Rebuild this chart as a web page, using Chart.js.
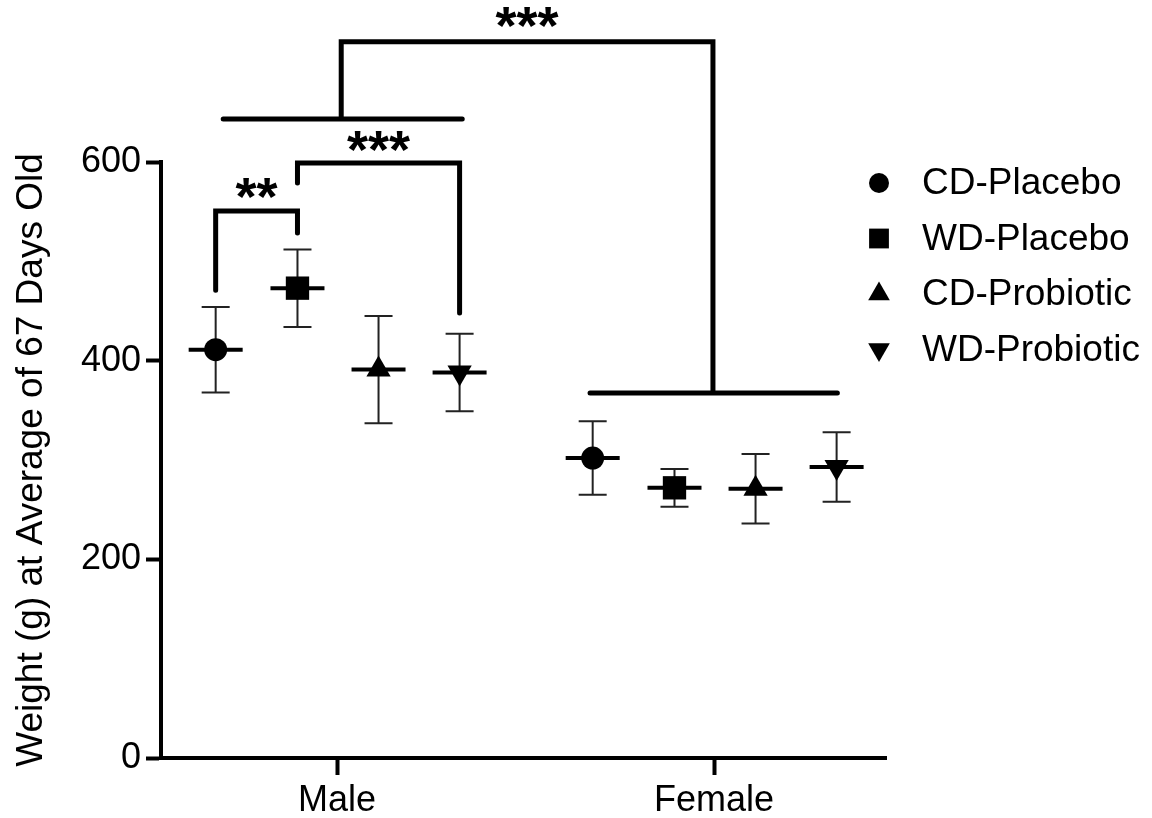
<!DOCTYPE html>
<html>
<head>
<meta charset="utf-8">
<script src="https://cdn.jsdelivr.net/npm/chart.js@4.4.1/dist/chart.umd.min.js"></script>
<style>
  html, body { margin: 0; padding: 0; background: #ffffff; }
  #wrap { width: 1152px; height: 818px; }
</style>
</head>
<body>
<div id="wrap"><canvas id="chart" width="1152" height="818"></canvas></div>
<script>
// ---- data ----
const groups = ['Male', 'Female'];
const seriesNames = ['CD-Placebo', 'WD-Placebo', 'CD-Probiotic', 'WD-Probiotic'];
const cdPlacebo = [411, 302];
const wdPlacebo = [473, 272];
const cdProbiotic = [391, 271];
const wdProbiotic = [388, 293];
const cdPlaceboErr = [43, 37];
const wdPlaceboErr = [39, 19];
const cdProbioticErr = [54, 35];
const wdProbioticErr = [39, 35];
const yTicks = [0, 200, 400, 600];
const yTitle = 'Weight (g) at Average of 67 Days Old';
const sigLabels = ['**', '***', '***'];

const seriesValues = [cdPlacebo, wdPlacebo, cdProbiotic, wdProbiotic];
const seriesErrors = [cdPlaceboErr, wdPlaceboErr, cdProbioticErr, wdProbioticErr];

// ---- layout / style ----
const FONT = "'Liberation Sans', Arial, Helvetica, sans-serif";
const slotOffset = [-0.322, -0.105, 0.110, 0.325];   // series position inside a group
const markerStyle = [
  { pointStyle: 'circle',   radius: 11.5, rotation: 0 },
  { pointStyle: 'rect',     radius: 16.5, rotation: 0 },
  { pointStyle: 'triangle', radius: 14,   rotation: 0 },
  { pointStyle: 'triangle', radius: 14,   rotation: 180 }
];
const legendRadius = [10, 14, 12.5, 12.5];

// significance brackets (x in axis units, y in grams)
const brackets = [
  // CD-Placebo vs WD-Placebo (male)
  { path: [[1 + slotOffset[0], 471], [1 + slotOffset[0], 550.7], [1 + slotOffset[1], 550.7], [1 + slotOffset[1], 528.5]],
    label: 0, lx: 1 + (slotOffset[0] + slotOffset[1]) / 2, ly: 573.8 },
  // WD-Placebo vs WD-Probiotic (male)
  { path: [[1 + slotOffset[1], 578.9], [1 + slotOffset[1], 599], [1 + slotOffset[3], 599], [1 + slotOffset[3], 448]],
    label: 1, lx: 1 + (slotOffset[1] + slotOffset[3]) / 2, ly: 621 },
];
const groupBracket = {
  maleLine: [0.698, 1.332, 643.3],
  femaleLine: [1.671, 2.327, 367.4],
  top: 721.1, maleX: 1.011, femaleX: 1.997,
  label: 2, ly: 745
};

const xs = (gi, si) => gi + 1 + slotOffset[si];

const datasets = seriesNames.map((name, si) => ({
  label: name,
  data: groups.map((g, gi) => ({ x: xs(gi, si), y: seriesValues[si][gi] })),
  backgroundColor: '#000',
  borderColor: '#000',
  borderWidth: 0,
  pointStyle: markerStyle[si].pointStyle,
  pointRadius: markerStyle[si].radius,
  pointRotation: markerStyle[si].rotation,
  showLine: false
}));

// error bars and mean lines, drawn under the markers
const errorBarPlugin = {
  id: 'errorBars',
  beforeDatasetsDraw(chart) {
    const { ctx, scales: { x, y } } = chart;
    ctx.save();
    seriesNames.forEach((name, si) => {
      groups.forEach((g, gi) => {
        const px = x.getPixelForValue(xs(gi, si));
        const m = seriesValues[si][gi];
        const e = seriesErrors[si][gi];
        const yTop = y.getPixelForValue(m + e);
        const yBot = y.getPixelForValue(m - e);
        const yMid = y.getPixelForValue(m);
        ctx.strokeStyle = '#222';
        ctx.lineWidth = 2;
        ctx.lineCap = 'butt';
        ctx.beginPath();
        ctx.moveTo(px, yTop); ctx.lineTo(px, yBot);
        ctx.moveTo(px - 14, yTop); ctx.lineTo(px + 14, yTop);
        ctx.moveTo(px - 14, yBot); ctx.lineTo(px + 14, yBot);
        ctx.stroke();
        ctx.strokeStyle = '#000';
        ctx.lineWidth = 4;
        ctx.beginPath();
        ctx.moveTo(px - 27, yMid); ctx.lineTo(px + 27, yMid);
        ctx.stroke();
      });
    });
    ctx.restore();
  }
};

function drawStars(ctx, text, cx, cy) {
  ctx.font = "bold 54px " + FONT;
  ctx.textAlign = 'center';
  ctx.textBaseline = 'alphabetic';
  const m = ctx.measureText(text);
  ctx.fillText(text, cx, cy + (m.actualBoundingBoxAscent - m.actualBoundingBoxDescent) / 2);
}

const bracketPlugin = {
  id: 'sigBrackets',
  afterDraw(chart) {
    const { ctx, scales: { x, y } } = chart;
    const P = (vx, vy) => [x.getPixelForValue(vx), y.getPixelForValue(vy)];
    ctx.save();
    ctx.strokeStyle = '#000';
    ctx.fillStyle = '#000';
    ctx.lineWidth = 5;
    ctx.lineCap = 'round';
    ctx.lineJoin = 'miter';
    brackets.forEach(b => {
      ctx.beginPath();
      b.path.forEach((pt, i) => {
        const [px, py] = P(pt[0], pt[1]);
        if (i === 0) ctx.moveTo(px, py); else ctx.lineTo(px, py);
      });
      ctx.stroke();
      const [lx, ly] = P(b.lx, b.ly);
      drawStars(ctx, sigLabels[b.label], lx, ly);
    });
    const gb = groupBracket;
    ctx.beginPath();
    let a = P(gb.maleLine[0], gb.maleLine[2]), c = P(gb.maleLine[1], gb.maleLine[2]);
    ctx.moveTo(a[0], a[1]); ctx.lineTo(c[0], c[1]);
    a = P(gb.femaleLine[0], gb.femaleLine[2]); c = P(gb.femaleLine[1], gb.femaleLine[2]);
    ctx.moveTo(a[0], a[1]); ctx.lineTo(c[0], c[1]);
    ctx.stroke();
    ctx.lineCap = 'butt';
    ctx.beginPath();
    a = P(gb.maleX, gb.maleLine[2]); ctx.moveTo(a[0], a[1]);
    a = P(gb.maleX, gb.top); ctx.lineTo(a[0], a[1]);
    a = P(gb.femaleX, gb.top); ctx.lineTo(a[0], a[1]);
    a = P(gb.femaleX, gb.femaleLine[2]); ctx.lineTo(a[0], a[1]);
    ctx.stroke();
    const [tx, ty] = P((gb.maleX + gb.femaleX) / 2, gb.ly);
    drawStars(ctx, sigLabels[gb.label], tx, ty);
    ctx.restore();
  }
};

// legend on the right, one symbol + name per row
const legendPlugin = {
  id: 'sideLegend',
  afterDraw(chart) {
    const ctx = chart.ctx;
    const mx = 879, tx = 922, y0 = 183, step = 55.5;
    ctx.save();
    ctx.fillStyle = '#000';
    ctx.font = "37px " + FONT;
    ctx.textAlign = 'left';
    ctx.textBaseline = 'middle';
    chart.data.datasets.forEach((ds, i) => {
      const cy = y0 + i * step;
      Chart.helpers.drawPoint(ctx, {
        pointStyle: ds.pointStyle, radius: legendRadius[i], rotation: ds.pointRotation, borderWidth: 0
      }, mx, cy);
      ctx.fillText(ds.label, tx, cy + 1);
    });
    ctx.restore();
  }
};

Chart.defaults.font.family = FONT;
Chart.defaults.color = '#000';

new Chart(document.getElementById('chart'), {
  type: 'scatter',
  data: { datasets },
  plugins: [errorBarPlugin, bracketPlugin, legendPlugin],
  options: {
    responsive: false,
    animation: false,
    events: [],
    layout: { padding: { left: 0, top: 162, right: 266, bottom: 0 } },
    plugins: { legend: { display: false }, tooltip: { enabled: false } },
    scales: {
      x: {
        type: 'linear',
        min: 0.533, max: 2.456,
        afterBuildTicks: s => { s.ticks = groups.map((g, i) => ({ value: i + 1 })); },
        afterFit: s => { s.height = 60; },
        ticks: {
          callback: v => groups[v - 1],
          font: { size: 36 }, color: '#000', padding: 4, maxRotation: 0, autoSkip: false
        },
        grid: { drawOnChartArea: false, drawTicks: true, tickLength: 17, tickWidth: 4, tickColor: '#000' },
        border: { display: true, color: '#000', width: 4 }
      },
      y: {
        type: 'linear',
        min: 0, max: 600,
        afterBuildTicks: s => { s.ticks = yTicks.map(v => ({ value: v })); },
        afterFit: s => { s.width = 161; },
        ticks: { font: { size: 36 }, color: '#000', padding: 5 },
        grid: { drawOnChartArea: false, drawTicks: true, tickLength: 15, tickWidth: 4, tickColor: '#000' },
        border: { display: true, color: '#000', width: 4 },
        title: { display: true, text: yTitle, font: { size: 37 }, color: '#000', padding: { top: 10, bottom: 0 } }
      }
    }
  }
});
</script>
</body>
</html>
